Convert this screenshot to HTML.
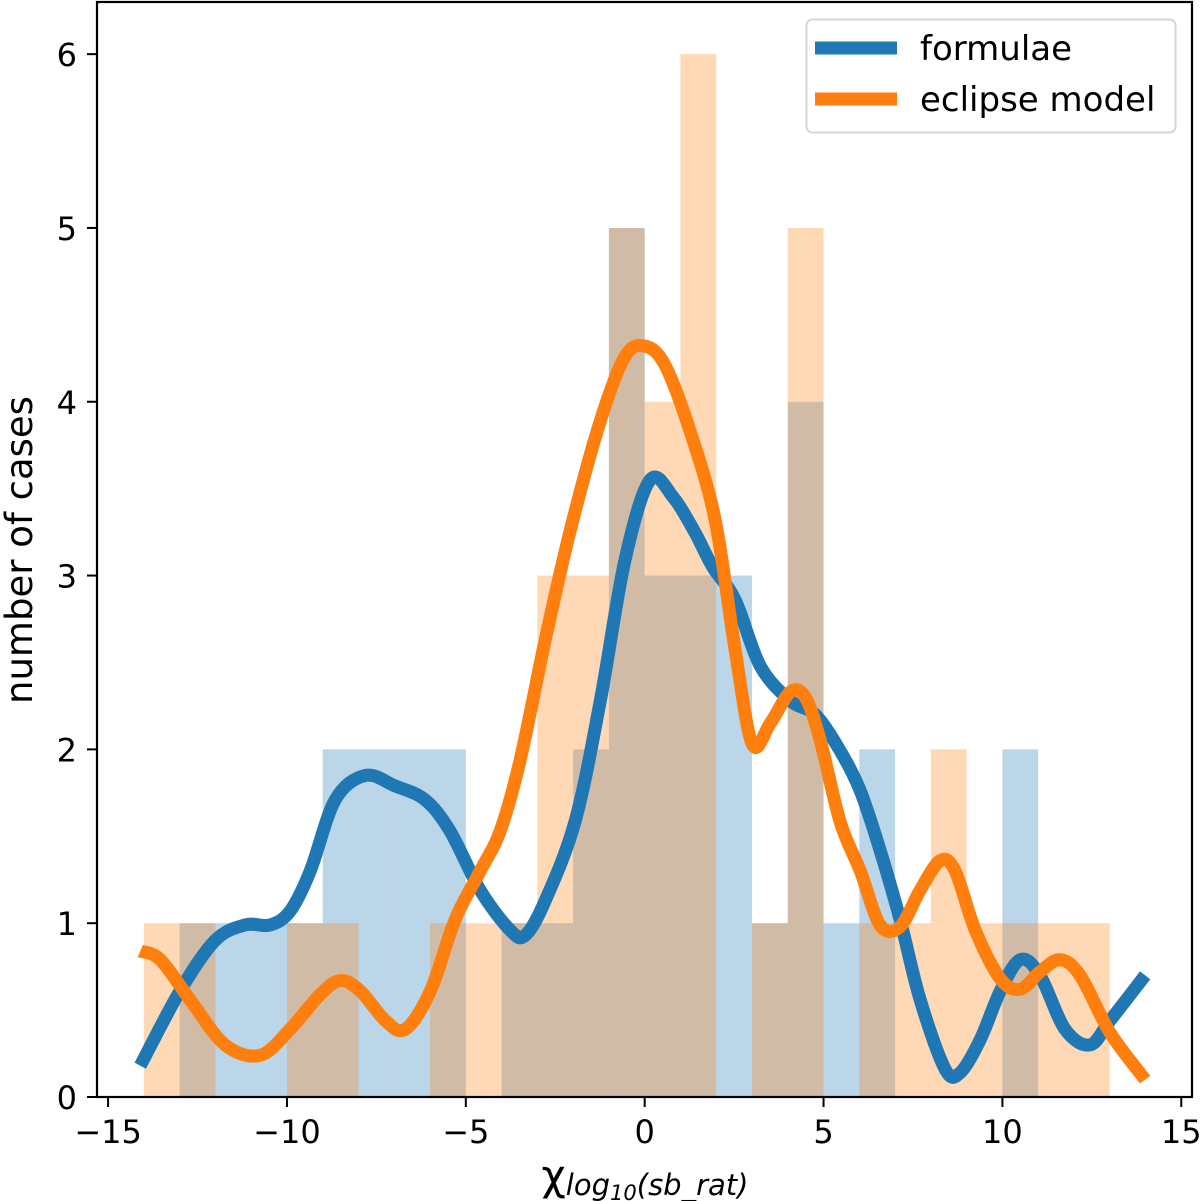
<!DOCTYPE html>
<html><head><meta charset="utf-8">
<style>
html,body{margin:0;padding:0;background:#fff;}
svg{display:block;font-family:"DejaVu Sans","Liberation Sans",sans-serif;}
</style></head>
<body>
<svg id="chart" width="1200" height="1201" viewBox="0 0 1200 1201" xmlns="http://www.w3.org/2000/svg">
<g id="bars"></g>
<g id="lines"></g>
<g id="axes"></g>
<g>
  <rect x="806.5" y="19.5" width="369" height="113" rx="6" fill="#fff" fill-opacity="0.8" stroke="#d6d6d6" stroke-width="2"/>
  <line x1="815" y1="48" x2="897" y2="48" stroke="#1f77b4" stroke-width="13"/>
  <text x="920" y="60" font-size="34" fill="#000">formulae</text>
  <line x1="815" y1="99" x2="897" y2="99" stroke="#ff7f0e" stroke-width="13"/>
  <text x="920" y="111" font-size="34" fill="#000">eclipse model</text>
</g>
<text transform="translate(32,550) rotate(-90)" text-anchor="middle" font-size="37" fill="#000">number of cases</text>
<text x="645" y="1190" text-anchor="middle" font-size="42" fill="#000">χ<tspan font-size="29" font-style="italic" dy="5">log</tspan><tspan font-size="21" font-style="italic" dy="5">10</tspan><tspan font-size="29" font-style="italic" dy="-5">(sb_rat)</tspan></text>
</svg>
<script>
const binEdges = [-14,-13,-12,-11,-10,-9,-8,-7,-6,-5,-4,-3,-2,-1,0,1,2,3,4,5,6,7,8,9,10,11,12,13,14];
const formulaeCounts = [0,1,1,1,1,2,2,2,2,0,1,1,2,5,3,3,3,1,4,1,2,0,0,0,2,0,0,0];
const eclipseCounts  = [1,1,0,0,1,1,0,0,1,1,1,3,3,5,4,6,0,1,5,0,1,1,2,1,1,1,1,0];
const formulaeX = [-14.10,-12.99,-12.01,-11.17,-10.47,-9.91,-9.35,-8.65,-7.81,-6.98,-6.14,-5.44,-4.60,-3.76,-3.34,-2.78,-1.94,-1.24,-0.55,0.15,0.80,1.40,1.90,2.53,3.23,4.07,4.77,5.47,6.03,6.58,7.14,7.70,8.40,8.82,9.38,9.94,10.50,11.05,11.75,12.45,13.01,13.99];
const formulaeY = [0.18,0.61,0.90,0.99,0.99,1.07,1.30,1.71,1.85,1.79,1.71,1.53,1.19,0.96,0.93,1.13,1.59,2.28,3.09,3.55,3.45,3.25,3.05,2.86,2.48,2.28,2.20,1.99,1.76,1.42,1.02,0.56,0.16,0.14,0.33,0.61,0.79,0.70,0.39,0.30,0.44,0.70];
const eclipseX = [-14.10,-13.54,-12.71,-11.73,-10.75,-9.91,-9.07,-8.51,-7.95,-7.25,-6.69,-5.99,-5.30,-4.60,-4.04,-3.48,-2.78,-2.08,-1.24,-0.55,0.01,0.57,1.27,1.97,2.53,3.01,3.51,4.07,4.49,4.91,5.47,6.03,6.58,7.14,7.70,8.26,8.68,9.24,9.94,10.50,11.05,11.61,12.17,13.01,13.99];
const eclipseY = [0.84,0.79,0.56,0.30,0.24,0.39,0.59,0.67,0.61,0.44,0.39,0.61,1.02,1.30,1.53,1.94,2.63,3.26,3.89,4.26,4.32,4.21,3.83,3.32,2.57,2.03,2.15,2.33,2.30,2.05,1.58,1.30,0.99,0.98,1.19,1.36,1.30,0.96,0.68,0.62,0.72,0.79,0.70,0.37,0.10];
const xTicks = [-15,-10,-5,0,5,10,15];
const xTickLabels = ["\u221215","\u221210","\u22125","0","5","10","15"];
const yTicks = [0,1,2,3,4,5,6];
const yTickLabels = ["0","1","2","3","4","5","6"];

const L=97,R=1192,T=2,B=1097, XMIN=-15.31, XMAX=15.3, YMAX=6.3;
const sx=v=>L+(v-XMIN)/(XMAX-XMIN)*(R-L);
const sy=v=>B-v/YMAX*(B-T);
const NS="http://www.w3.org/2000/svg";
function mk(tag,parent){const e=document.createElementNS(NS,tag);parent.appendChild(e);return e;}

const bars=document.getElementById('bars');
function drawHist(counts,color,name){
  for(let i=0;i<counts.length;i++){
    if(!counts[i]) continue;
    const r=mk('rect',bars);
    
    
    r.setAttribute('x',sx(binEdges[i]));
    r.setAttribute('width',sx(binEdges[i+1])-sx(binEdges[i]));
    r.setAttribute('y',sy(counts[i]));
    r.setAttribute('height',B-sy(counts[i]));
    r.setAttribute('fill',color);
    r.setAttribute('fill-opacity','0.3');
  }
}
drawHist(formulaeCounts,'#1f77b4','formulae');
drawHist(eclipseCounts,'#ff7f0e','eclipse');

function smoothPath(xs,ys){
  const p=xs.map((x,i)=>[sx(x),sy(ys[i])]);
  let d='M'+p[0][0]+','+p[0][1];
  for(let i=0;i<p.length-1;i++){
    const p0=p[Math.max(0,i-1)],p1=p[i],p2=p[i+1],p3=p[Math.min(p.length-1,i+2)];
    const c1=[p1[0]+(p2[0]-p0[0])/6,p1[1]+(p2[1]-p0[1])/6];
    const c2=[p2[0]-(p3[0]-p1[0])/6,p2[1]-(p3[1]-p1[1])/6];
    d+=' C'+c1[0]+','+c1[1]+' '+c2[0]+','+c2[1]+' '+p2[0]+','+p2[1];
  }
  return d;
}
const lines=document.getElementById('lines');
const lf=mk('path',lines);


lf.setAttribute('d',smoothPath(formulaeX,formulaeY));
lf.setAttribute('fill','none');lf.setAttribute('stroke','#1f77b4');lf.setAttribute('stroke-width','13');
const le=mk('path',lines);


le.setAttribute('d',smoothPath(eclipseX,eclipseY));
le.setAttribute('fill','none');le.setAttribute('stroke','#ff7f0e');le.setAttribute('stroke-width','13');

const axes=document.getElementById('axes');
const frame=mk('rect',axes);


frame.setAttribute('x',L);frame.setAttribute('y',T);frame.setAttribute('width',R-L);frame.setAttribute('height',B-T);
frame.setAttribute('fill','none');frame.setAttribute('stroke','#000');frame.setAttribute('stroke-width','2.2');
xTicks.forEach((v,i)=>{
  const t=mk('line',axes);
  
  
  t.setAttribute('x1',sx(v));t.setAttribute('x2',sx(v));t.setAttribute('y1',B);t.setAttribute('y2',B+10);
  t.setAttribute('stroke','#000');t.setAttribute('stroke-width','2');
  const l=mk('text',axes);
  
  
  l.setAttribute('x',sx(v));l.setAttribute('y',B+46);l.setAttribute('text-anchor','middle');l.setAttribute('font-size','32');
  l.textContent=xTickLabels[i];
});
yTicks.forEach((v,i)=>{
  const t=mk('line',axes);
  
  
  t.setAttribute('x1',L-10);t.setAttribute('x2',L);t.setAttribute('y1',sy(v));t.setAttribute('y2',sy(v));
  t.setAttribute('stroke','#000');t.setAttribute('stroke-width','2');
  const l=mk('text',axes);
  
  
  l.setAttribute('x',L-20);l.setAttribute('y',sy(v)+12);l.setAttribute('text-anchor','end');l.setAttribute('font-size','32');
  l.textContent=yTickLabels[i];
});
</script>
</body></html>
